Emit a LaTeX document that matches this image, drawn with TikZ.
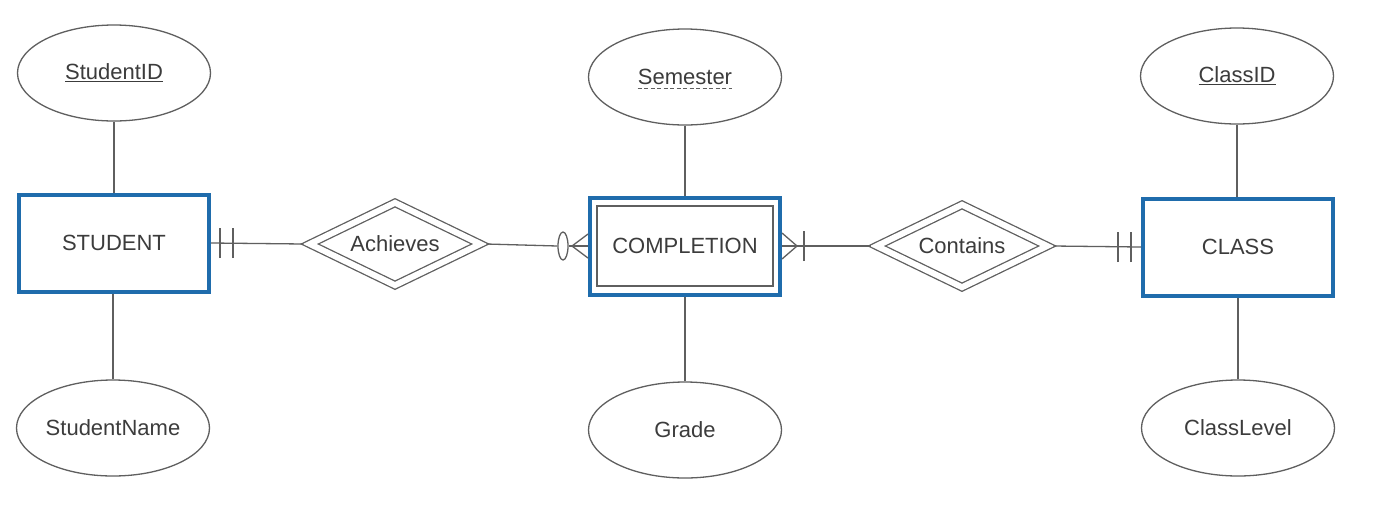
\documentclass[tikz,border=0pt]{standalone}
\usepackage{fontspec}
\setmainfont{Liberation Sans}
\usetikzlibrary{shapes.geometric}
\definecolor{eblue}{RGB}{31,108,172}
\definecolor{eline}{RGB}{95,95,95}
\definecolor{etext}{RGB}{60,60,60}
\begin{document}
\begin{tikzpicture}[x=1pt,y=-1pt,
  txt/.style={text=etext,font=\fontsize{22}{26}\selectfont},
  attr/.style={ellipse,draw=eline,line width=1.3pt,minimum width=193pt,minimum height=96pt,inner sep=0pt,txt},
  entity/.style={rectangle,draw=eblue,line width=4pt,minimum width=190pt,minimum height=97pt,inner sep=0pt,txt},
  innerbox/.style={rectangle,draw=eline,line width=1.4pt,minimum width=176pt,minimum height=80pt,inner sep=0pt,txt},
  rel/.style={diamond,aspect=2,draw=eline,line width=1.3pt,double=white,double distance=6pt,minimum width=174pt,minimum height=86pt,inner sep=0pt,outer sep=4.3pt,txt},
  lbl/.style={inner sep=0pt,txt},
  optmark/.style={ellipse,draw=eline,line width=1.3pt,minimum width=10pt,minimum height=28pt,inner sep=0pt,fill=white},
  conn/.style={draw=eline,line width=1.3pt}]
\useasboundingbox[fill=white] (0,0) rectangle (1375,507);

% entities
\node[entity] (student) at (114,243) {STUDENT};
\node[entity] (completion) at (685,246) {};
\node[innerbox] (compin) at (685,246) {COMPLETION};
\node[entity] (class) at (1238,247) {CLASS};

% relationships
\node[rel] (achieves) at (395,244) {Achieves};
\node[rel] (contains) at (962,246) {Contains};

% attributes
\node[attr] (studentid) at (114,73) {\underline{StudentID}};
\node[attr] (studentname) at (113,428) {StudentName};
\node[attr] (semester) at (685,77) {};
\node[lbl] (semtext) at (685,77) {Semester};
\node[attr] (grade) at (685,430) {Grade};
\node[attr] (classid) at (1237,76) {\underline{ClassID}};
\node[attr] (classlevel) at (1238,428) {ClassLevel};

\draw[eline,line width=1pt,dash pattern=on 4pt off 2.5pt] ([yshift=-4pt]semtext.base west) -- ([yshift=-4pt]semtext.base east);

% attribute links
\draw[conn] (studentid.south) -- (studentid.south |- student.north);
\draw[conn] (studentname.north) -- (studentname.north |- student.south);
\draw[conn] (semester.south) -- (completion.north);
\draw[conn] (grade.north) -- (completion.south);
\draw[conn] (classid.south) -- (classid.south |- class.north);
\draw[conn] (classlevel.north) -- (class.south);

% STUDENT -- Achieves (mandatory one)
\draw[conn] (student.east) -- (achieves.west);
\draw[conn] ([xshift=9pt,yshift=-15pt]student.east) -- ([xshift=9pt,yshift=15pt]student.east);
\draw[conn] ([xshift=22pt,yshift=-15pt]student.east) -- ([xshift=22pt,yshift=15pt]student.east);

% Achieves -- COMPLETION (optional many)
\coordinate (footA) at ([xshift=-16pt]completion.west);
\node[optmark] (optA) at ([xshift=-25pt]completion.west) {};
\draw[conn] (achieves.east) -- (optA.west);
\draw[conn] (optA.east) -- (completion.west);
\draw[conn] ([yshift=-12pt]completion.west) -- (footA) -- ([yshift=12pt]completion.west);

% COMPLETION -- Contains (mandatory many)
\coordinate (footB) at ([xshift=15pt]completion.east);
\draw[conn] (completion.east) -- (contains.west);
\draw[conn] ([yshift=-13pt]completion.east) -- (footB) -- ([yshift=13pt]completion.east);
\draw[conn] ([xshift=22pt,yshift=-15pt]completion.east) -- ([xshift=22pt,yshift=15pt]completion.east);

% Contains -- CLASS (mandatory one)
\draw[conn] (contains.east) -- (class.west);
\draw[conn] ([xshift=-10pt,yshift=-15pt]class.west) -- ([xshift=-10pt,yshift=15pt]class.west);
\draw[conn] ([xshift=-23pt,yshift=-15pt]class.west) -- ([xshift=-23pt,yshift=15pt]class.west);
\end{tikzpicture}
\end{document}
